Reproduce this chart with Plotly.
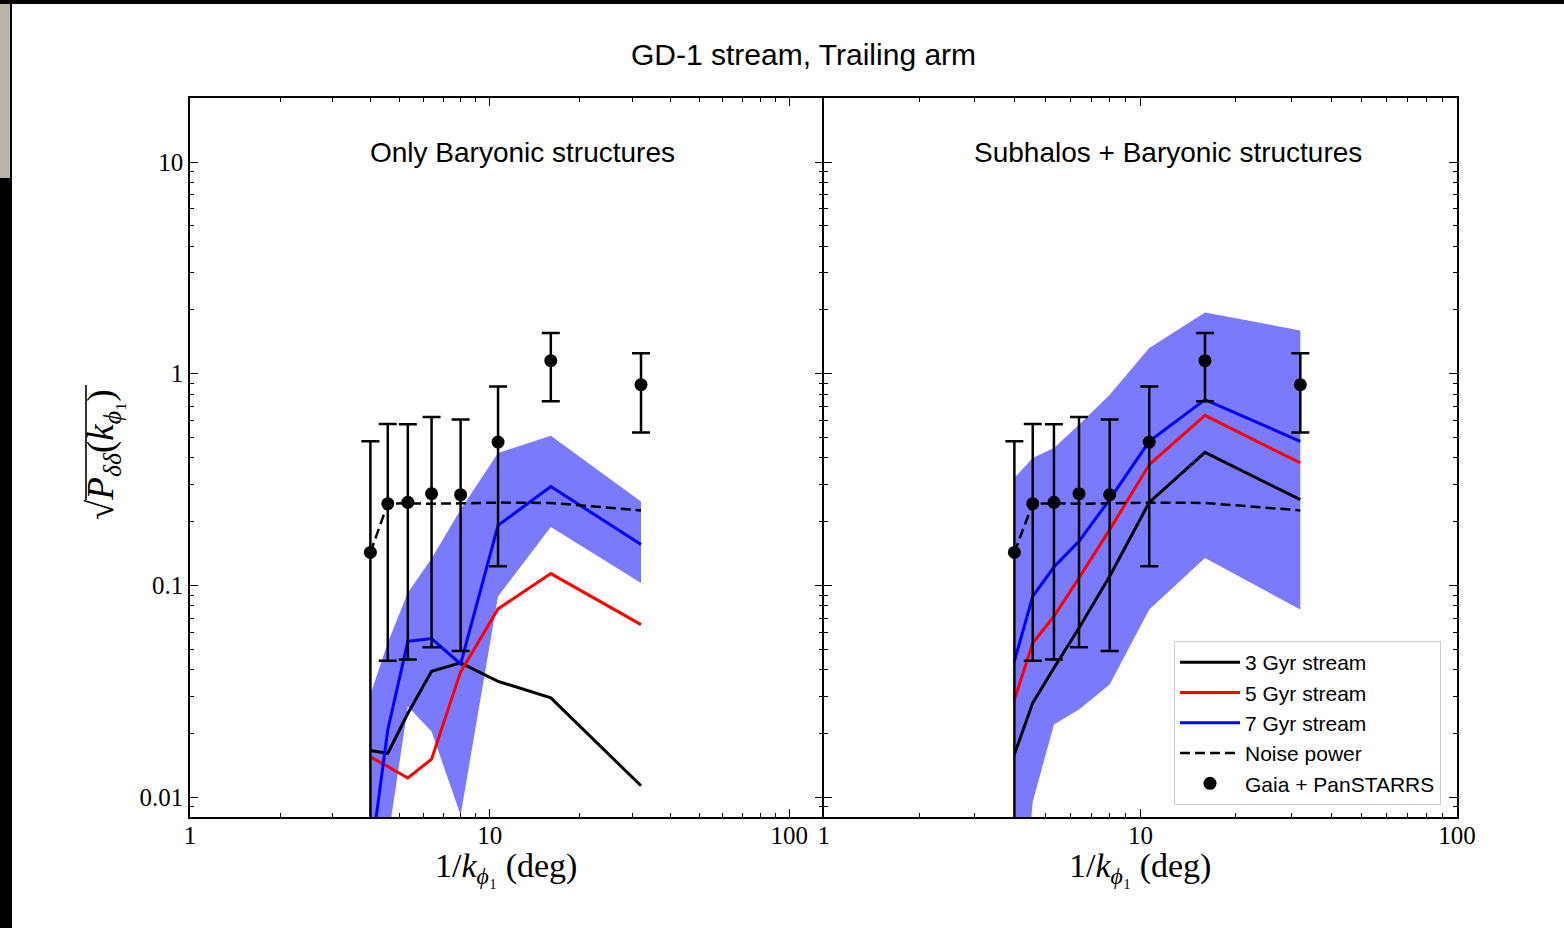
import plotly.graph_objects as go

# ---------------- data ----------------
inv_k = [4.0, 4.571, 5.333, 6.4, 8.0, 10.667, 16.0, 32.0]

# Left panel: only baryonic structures
left_3gyr = [0.0166, 0.0161, 0.0248, 0.0393, 0.0430, 0.0352, 0.0294, 0.0113]
left_5gyr = [0.0155, 0.0139, 0.0123, 0.0151, 0.0390, 0.0774, 0.1136, 0.0652]
left_7gyr = [0.0050, 0.0208, 0.0544, 0.0560, 0.0425, 0.1920, 0.2930, 0.1560]
left_7gyr_hi = [0.0305, 0.0536, 0.0923, 0.134, 0.228, 0.422, 0.5095, 0.249]
left_7gyr_lo = [0.0030, 0.0062, 0.0268, 0.0204, 0.0082, 0.0887, 0.1887, 0.1026]

# Right panel: subhalos + baryonic structures
right_3gyr = [0.0159, 0.0278, 0.0407, 0.0629, 0.1103, 0.2466, 0.4248, 0.254]
right_5gyr = [0.0288, 0.0534, 0.0714, 0.1084, 0.1834, 0.3715, 0.6355, 0.3786]
right_7gyr = [0.0438, 0.0887, 0.122, 0.1614, 0.255, 0.479, 0.7537, 0.479]
right_7gyr_hi = [0.3217, 0.400, 0.4457, 0.574, 0.796, 1.323, 1.948, 1.601]
right_7gyr_lo = [0.0010, 0.0095, 0.0220, 0.0259, 0.0340, 0.0768, 0.1347, 0.0768]

# Noise power and observed data
noise_power = [0.143, 0.243, 0.244, 0.243, 0.244, 0.246, 0.245, 0.226]
data_y = [0.143, 0.243, 0.2466, 0.271, 0.268, 0.475, 1.152, 0.887]
data_err_plus = [0.336, 0.335, 0.331, 0.353, 0.339, 0.395, 0.405, 0.363]
data_err_minus = [0.142, 0.199, 0.202, 0.220, 0.219, 0.352, 0.412, 0.359]

# ticks
x_major = [1, 10, 100]
x_major_text = ["1", "10", "100"]
x_minor = [2, 3, 4, 5, 6, 7, 8, 9, 20, 30, 40, 50, 60, 70, 80, 90, 200]
y_major = [0.01, 0.1, 1, 10]
y_major_text = ["0.01", "0.1", "1", "10"]
y_minor = [0.008, 0.009, 0.02, 0.03, 0.04, 0.05, 0.06, 0.07, 0.08, 0.09,
           0.2, 0.3, 0.4, 0.5, 0.6, 0.7, 0.8, 0.9, 2, 3, 4, 5, 6, 7, 8, 9, 20]

# ---------------- layout helpers ----------------
W, H = 1564, 928
L, R, T, B = 190, 1457, 98, 817
PW, PH = R - L, B - T
LW = 1.5


def px(xp):
    return (xp - L) / PW


def py(yp):
    return (B - yp) / PH


SERIF = "Liberation Serif"
SANS = "Liberation Sans"

fig = go.Figure()


def add_panel(xa, ya, lo3, lo5, lo7, hi_band, lo_band, legend):
    fig.add_trace(go.Scatter(
        x=inv_k + inv_k[::-1], y=hi_band + lo_band[::-1], fill="toself",
        fillcolor="rgba(0,0,255,0.52)", line=dict(width=0), mode="lines",
        xaxis=xa, yaxis=ya, showlegend=False, hoverinfo="skip"))
    for ys, col, name in [(lo3, "black", "3 Gyr stream"),
                          (lo5, "red", "5 Gyr stream"),
                          (lo7, "blue", "7 Gyr stream")]:
        fig.add_trace(go.Scatter(x=inv_k, y=ys, mode="lines",
                                 line=dict(color=col, width=3), name=name,
                                 xaxis=xa, yaxis=ya, showlegend=legend))
    fig.add_trace(go.Scatter(x=inv_k, y=noise_power, mode="lines",
                             line=dict(color="black", width=2.5, dash="10px,5px"),
                             name="Noise power", xaxis=xa, yaxis=ya,
                             showlegend=legend))
    fig.add_trace(go.Scatter(
        x=inv_k, y=data_y, mode="markers",
        marker=dict(color="black", size=13),
        error_y=dict(type="data", symmetric=False, array=data_err_plus,
                     arrayminus=data_err_minus, color="black",
                     thickness=2.5, width=9),
        name="Gaia + PanSTARRS", xaxis=xa, yaxis=ya, showlegend=legend))


add_panel("x", "y", left_3gyr, left_5gyr, left_7gyr, left_7gyr_hi, left_7gyr_lo, False)
add_panel("x2", "y2", right_3gyr, right_5gyr, right_7gyr, right_7gyr_hi, right_7gyr_lo, True)

minor_common = dict(ticks="inside", ticklen=4, tickwidth=1, tickcolor="black",
                    showgrid=False, tickmode="array")
axis_common = dict(
    type="log", showline=True, linecolor="black", linewidth=LW,
    mirror="allticks", ticks="inside", ticklen=8, tickwidth=1.2,
    tickcolor="black", showgrid=False, zeroline=False,
    tickfont=dict(family=SERIF, size=25, color="black"),
    tickmode="array",
)

fig.update_layout(
    width=W, height=H,
    margin=dict(l=L, r=W - R, t=T, b=H - B),
    paper_bgcolor="white", plot_bgcolor="white",
    xaxis=dict(axis_common, domain=[0, px(823 - LW / 2)], range=[0, 2.11], anchor="y",
               tickvals=x_major, ticktext=x_major_text, ticklabelstandoff=-5,
               minor=dict(minor_common, tickvals=x_minor)),
    xaxis2=dict(axis_common, domain=[px(823 + LW / 2), 1], range=[0, 2], anchor="y2",
                tickvals=x_major, ticktext=x_major_text, ticklabelstandoff=-5,
                minor=dict(minor_common, tickvals=x_minor)),
    yaxis=dict(axis_common, domain=[0, 1], range=[-2.0945, 1.3024], anchor="x",
               tickvals=y_major, ticktext=y_major_text,
               minor=dict(minor_common, tickvals=y_minor)),
    yaxis2=dict(axis_common, domain=[0, 1], range=[-2.0945, 1.3024], anchor="x2",
                tickvals=y_major, ticktext=y_major_text, showticklabels=False,
                minor=dict(minor_common, tickvals=y_minor)),
    legend=dict(x=px(1174), y=py(641), xanchor="left", yanchor="top",
                bgcolor="white", bordercolor="#cccccc", borderwidth=1,
                font=dict(family=SANS, size=21, color="black"),
                itemwidth=60),
    showlegend=True,
)

annotations = [
    dict(text="GD-1 stream, Trailing arm", x=px(803), y=py(55),
         font=dict(family=SANS, size=30, color="black")),
    dict(text="Only Baryonic structures", x=px(522), y=py(153),
         font=dict(family=SANS, size=28, color="black")),
    dict(text="Subhalos + Baryonic structures", x=px(1168), y=py(153),
         font=dict(family=SANS, size=28, color="black")),
    dict(text="1/<i>k</i><sub><i>ϕ</i>₁</sub> (deg)", x=px(506), y=py(868),
         font=dict(family=SERIF, size=34, color="black")),
    dict(text="1/<i>k</i><sub><i>ϕ</i>₁</sub> (deg)", x=px(1140), y=py(868),
         font=dict(family=SERIF, size=34, color="black")),
    dict(text="√<i>P</i><sub><i>δδ</i></sub>(<i>k</i><sub><i>ϕ</i>₁</sub>)",
         x=px(103), y=py(455), textangle=-90,
         font=dict(family=SERIF, size=37, color="black")),
]
for a in annotations:
    a.update(xref="paper", yref="paper", showarrow=False,
             xanchor="center", yanchor="middle")
fig.update_layout(annotations=annotations)

shapes = [
    # vinculum of the square root in the y-axis label
    dict(type="line", xref="paper", yref="paper", x0=px(86), x1=px(86),
         y0=py(500), y1=py(385), line=dict(color="black", width=1.6)),
    # screenshot frame: black top bar and left strip
    dict(type="rect", xref="paper", yref="paper", x0=px(-5), x1=px(W + 5),
         y0=py(4), y1=py(-5), fillcolor="black", line=dict(width=0), layer="above"),
    dict(type="rect", xref="paper", yref="paper", x0=px(-5), x1=px(12),
         y0=py(H + 5), y1=py(-5), fillcolor="black", line=dict(width=0), layer="above"),
    dict(type="rect", xref="paper", yref="paper", x0=px(-5), x1=px(10),
         y0=py(178), y1=py(4), fillcolor="#b9b5a9", line=dict(width=0), layer="above"),
]
fig.update_layout(shapes=shapes)

fig.write_html("out.html")
